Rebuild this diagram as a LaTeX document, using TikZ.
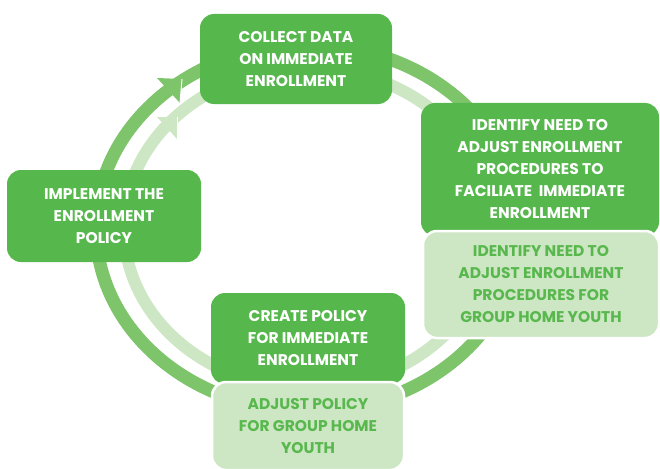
\documentclass[tikz,border=0pt]{standalone}
\usepackage{fontspec}
\setmainfont{Poppins}
\definecolor{boxdark}{HTML}{56B84C}
\definecolor{boxlight}{HTML}{CDE6C4}
\definecolor{ringdark}{HTML}{7DC46B}
\definecolor{ringlight}{HTML}{CDE6C4}
\definecolor{textgreen}{HTML}{58B84D}
\begin{document}
\begin{tikzpicture}[x=1pt,y=-1pt,
  box/.style={rounded corners=14pt, fill=boxdark, text=white, font=\bfseries\fontsize{15.5}{22}\selectfont, align=center, inner sep=0pt},
  lbox/.style={box, fill=boxlight, text=textgreen, draw=white, line width=2.5pt},
  darkring/.style={draw=ringdark, line width=13pt},
  lightring/.style={draw=ringlight, line width=12pt}
]
\useasboundingbox (0,0) rectangle (660,468);
% rings
\path[darkring] (308,228) ellipse [x radius=212pt, y radius=183pt];
\path[lightring] (308,228) ellipse [x radius=184pt, y radius=160pt];
% arrowheads
\fill[ringdark] (157,78) -- (182,79) -- (180,103) -- cycle;
\draw[white, line width=1pt] (182,79) -- (180,103);
\fill[ringlight] (157,117) -- (177,117) -- (177,139) -- cycle;
\draw[white, line width=1pt] (177,117) -- (177,139);
% boxes
\node[box, minimum width=192pt, minimum height=90pt] (collect) at (296,59) {COLLECT DATA\\ON IMMEDIATE\\ENROLLMENT};
\node[box, minimum width=238pt, minimum height=133pt] (identify) at (540,169.5) {IDENTIFY NEED TO\\ADJUST ENROLLMENT\\PROCEDURES TO\\FACILIATE\ \ IMMEDIATE\\ENROLLMENT};
\node[lbox, minimum width=236pt, minimum height=107pt] (identifyg) at (541,284.5) {IDENTIFY NEED TO\\ADJUST ENROLLMENT\\PROCEDURES FOR\\GROUP HOME YOUTH};
\node[box, minimum width=194pt, minimum height=92pt] (implement) at (104,216) {IMPLEMENT THE\\ENROLLMENT\\POLICY};
\node[box, minimum width=194pt, minimum height=91pt] (create) at (308,338.5) {CREATE POLICY\\FOR IMMEDIATE\\ENROLLMENT};
\node[lbox, minimum width=192pt, minimum height=88pt] (adjust) at (308,426) {ADJUST POLICY\\FOR GROUP HOME\\YOUTH};
\end{tikzpicture}
\end{document}
